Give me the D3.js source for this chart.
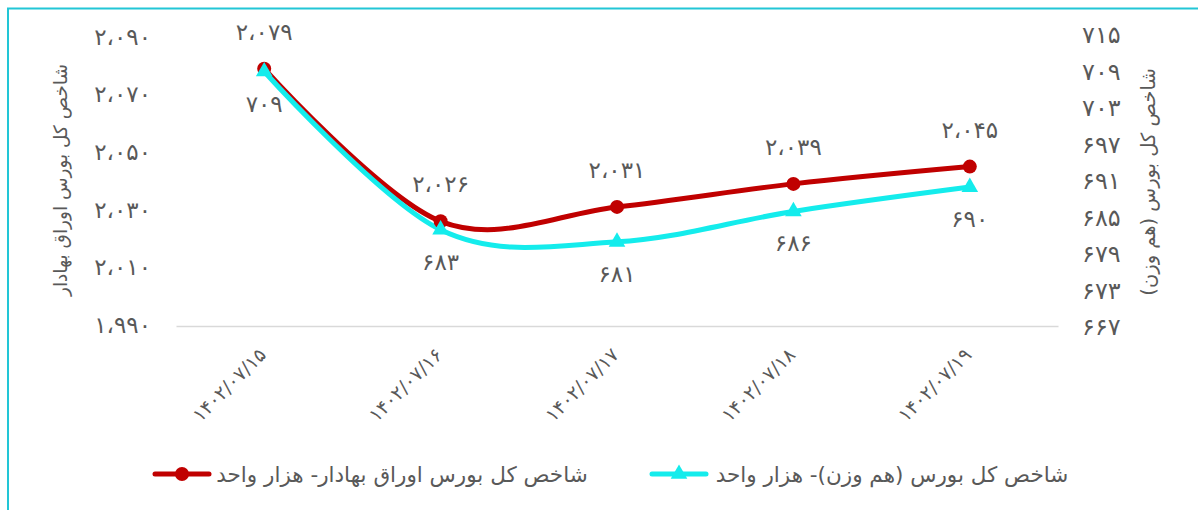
<!DOCTYPE html>
<html><head><meta charset="utf-8">
<script src="https://cdn.jsdelivr.net/npm/d3@7"></script>
<style>body{margin:0;background:#fff}svg{display:block}</style>
</head><body>
<svg id="c" width="1198" height="510"></svg>
<script>
const categories = ["1402/07/15", "1402/07/16", "1402/07/17", "1402/07/18", "1402/07/19"];
const bondIndex = [2079, 2026, 2031, 2039, 2045];
const equalWeightIndex = [709, 683, 681, 686, 690];
const leftTicks = [1990, 2010, 2030, 2050, 2070, 2090];
const rightTicks = [667, 673, 679, 685, 691, 697, 703, 709, 715];
const seriesNames = ["شاخص کل بورس اوراق بهادار- هزار واحد", "شاخص کل بورس (هم وزن)- هزار واحد"];
const axisTitles = ["شاخص کل بورس اوراق بهادار", "شاخص کل بورس (هم وزن)"];

const RED = "#C00000", CYAN = "#14ECEC", TXT = "#595959";
const FONT = "'DejaVu Sans', 'Noto Sans', sans-serif";

const faDigits = s => String(s).replace(/[0-9]/g, d => "۰۱۲۳۴۵۶۷۸۹"[+d]);
const fmtThousands = v => faDigits(d3.format(",")(v)).replace(/,/g, "،");

const svg = d3.select("#c");
svg.append("rect").attr("x", 8).attr("y", 8.5).attr("width", 1400).attr("height", 700)
  .attr("fill", "none").attr("stroke", "#22C6D6").attr("stroke-width", 2);

const x = d3.scaleBand().domain(categories).range([176, 1058]).padding(0);
const xc = d => x(d) + x.bandwidth() / 2;
const yL = d3.scaleLinear().domain([1990, 2090]).range([325, 37]);
const yR = d3.scaleLinear().domain([667, 715]).range([327, 35]);

// left axis
const gL = svg.append("g").attr("transform", "translate(151,0)")
  .call(d3.axisLeft(yL).tickValues(leftTicks).tickSize(0).tickPadding(0).tickFormat(fmtThousands));
gL.select(".domain").remove();
gL.selectAll("text").attr("font-family", FONT).attr("font-size", 23).attr("fill", TXT).attr("direction", "ltr");

// right axis
const gR = svg.append("g").attr("transform", "translate(1082,0)")
  .call(d3.axisRight(yR).tickValues(rightTicks).tickSize(0).tickPadding(0).tickFormat(faDigits));
gR.select(".domain").remove();
gR.selectAll("text").attr("font-family", FONT).attr("font-size", 24).attr("fill", TXT).attr("direction", "ltr");

// bottom axis
const gB = svg.append("g").attr("transform", "translate(0,326)")
  .call(d3.axisBottom(x).tickSize(0).tickPadding(0).tickFormat(faDigits));
gB.select(".domain").attr("stroke", "#D9D9D9").attr("stroke-width", 1.5);
gB.selectAll("text")
  .attr("font-family", FONT).attr("font-size", 19).attr("fill", TXT).attr("direction", "ltr")
  .attr("text-anchor", "end").attr("dy", 0)
  .attr("transform", "translate(3,30) rotate(-45)");

// axis titles
svg.append("text").attr("transform", "translate(67,180) rotate(-90)")
  .attr("text-anchor", "middle").attr("direction", "rtl")
  .attr("font-family", FONT).attr("font-size", 18.5).attr("fill", TXT).text(axisTitles[0]);
svg.append("text").attr("transform", "translate(1155,182) rotate(-90)")
  .attr("text-anchor", "middle").attr("direction", "rtl")
  .attr("font-family", FONT).attr("font-size", 19.5).attr("fill", TXT).text(axisTitles[1]);

const curve = d3.curveCardinal.tension(0);
const ptsR = categories.map((c, i) => [xc(c), yL(bondIndex[i])]);
const ptsC = categories.map((c, i) => [xc(c), yR(equalWeightIndex[i])]);
const line = d3.line().curve(curve);

svg.append("path").attr("d", line(ptsR)).attr("fill", "none").attr("stroke", RED).attr("stroke-width", 5).attr("stroke-linecap", "round");
svg.append("path").attr("d", line(ptsC)).attr("fill", "none").attr("stroke", CYAN).attr("stroke-width", 5).attr("stroke-linecap", "round");

svg.selectAll(".mr").data(ptsR).join("circle").attr("class", "mr")
  .attr("cx", d => d[0]).attr("cy", d => d[1]).attr("r", 7).attr("fill", RED);
const tri = d3.symbol().type(d3.symbolTriangle).size(120);
svg.selectAll(".mc").data(ptsC).join("path").attr("class", "mc")
  .attr("transform", d => `translate(${d[0]},${d[1]})`).attr("d", tri).attr("fill", CYAN);

// data labels
svg.selectAll(".lr").data(bondIndex).join("text").attr("class", "lr")
  .attr("x", (d, i) => xc(categories[i])).attr("y", (d, i) => yL(d) - 37)
  .attr("dy", "0.35em").attr("text-anchor", "middle").attr("direction", "ltr")
  .attr("font-family", FONT).attr("font-size", 23).attr("fill", TXT).text(fmtThousands);
svg.selectAll(".lc").data(equalWeightIndex).join("text").attr("class", "lc")
  .attr("x", (d, i) => xc(categories[i])).attr("y", (d, i) => yR(d) + 32)
  .attr("dy", "0.35em").attr("text-anchor", "middle").attr("direction", "ltr")
  .attr("font-family", FONT).attr("font-size", 23).attr("fill", TXT).text(faDigits);

// legend
const lg = svg.append("g");
const legendItems = [
  {name: seriesNames[0], color: RED, type: "circle", lx: 155, tx: 402},
  {name: seriesNames[1], color: CYAN, type: "tri", lx: 652, tx: 892}
];
legendItems.forEach(it => {
  lg.append("line").attr("x1", it.lx).attr("x2", it.lx + 54).attr("y1", 474).attr("y2", 474)
    .attr("stroke", it.color).attr("stroke-width", 5).attr("stroke-linecap", "round");
  if (it.type === "circle") lg.append("circle").attr("cx", it.lx + 27).attr("cy", 474).attr("r", 7).attr("fill", it.color);
  else lg.append("path").attr("transform", `translate(${it.lx + 27},474)`).attr("d", tri).attr("fill", it.color);
  lg.append("text").attr("x", it.tx).attr("y", 474).attr("dy", "0.35em")
    .attr("text-anchor", "middle").attr("direction", "rtl")
    .attr("font-family", FONT).attr("font-size", 21.5).attr("fill", TXT).text(it.name);
});
</script>
</body></html>
